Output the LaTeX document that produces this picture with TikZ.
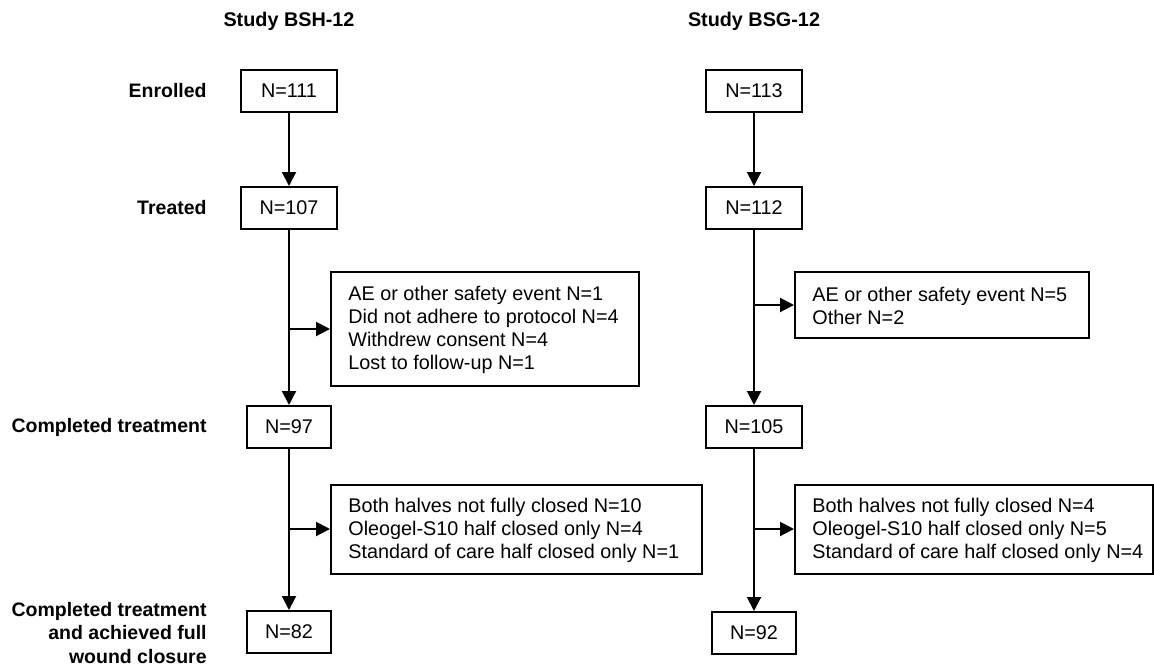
\documentclass[tikz,border=0pt]{standalone}
\usepackage{fontspec}
\setmainfont{Liberation Sans}
\usepackage{tikz}
\usetikzlibrary{arrows.meta}

\newcommand{\fsz}{\fontsize{9.9pt}{11.5pt}\selectfont}

\begin{document}
\begin{tikzpicture}[x=0.5pt,y=-0.5pt,
  every node/.style={font=\fsz},
  caja/.style={draw,line width=1pt,minimum height=21pt,inner sep=0pt},
  motivo/.style={draw,line width=1pt,inner sep=0pt},
  texto/.style={inner sep=0pt,align=left,anchor=west},
  etapa/.style={font=\fontsize{9.75pt}{11.7pt}\selectfont\bfseries,inner sep=0pt,anchor=east,align=right},
  titulo/.style={font=\fontsize{9.9pt}{12pt}\selectfont\bfseries},
  flecha/.style={line width=1pt,-{Triangle[length=7pt,width=7pt]}}
]

\useasboundingbox (0,0) rectangle (1154,665);

% titulos
\node[titulo] (tA) at (289,21) {Study BSH-12};
\node[titulo] (tB) at (754,21) {Study BSG-12};

% etapas
\node[etapa] (eEnr) at (207,91)  {Enrolled};
\node[etapa] (eTrt) at (207,208) {Treated};
\node[etapa] (eCmp) at (207,427) {Completed treatment};
\node[etapa] (eCls) at (207,633) {Completed treatment\\and achieved full\\wound closure};

% estudio BSH-12
\node[caja,minimum width=48pt] (a1) at (289,91)  {N=111};
\node[caja,minimum width=48pt] (a2) at (289,208) {N=107};
\node[caja,minimum width=42pt] (a3) at (289,427) {N=97};
\node[caja,minimum width=42pt] (a4) at (289,632) {N=82};

\node[motivo,minimum width=154pt,minimum height=57pt,anchor=west] (aD1) at (330,329) {};
\node[texto] (aT1) at ([xshift=9pt,yshift=-0.5pt]aD1.west)
  {AE or other safety event N=1\\Did not adhere to protocol N=4\\Withdrew consent N=4\\Lost to follow-up N=1};
\node[motivo,minimum width=185.5pt,minimum height=44.5pt,anchor=west] (aD2) at (330,529) {};
\node[texto] (aT2) at ([xshift=9pt,yshift=-0.5pt]aD2.west)
  {Both halves not fully closed N=10\\Oleogel-S10 half closed only N=4\\Standard of care half closed only N=1};

% estudio BSG-12
\node[caja,minimum width=48pt] (b1) at (754,91)  {N=113};
\node[caja,minimum width=48pt] (b2) at (754,208) {N=112};
\node[caja,minimum width=48pt] (b3) at (754,427) {N=105};
\node[caja,minimum width=42pt] (b4) at (754,633) {N=92};

\node[motivo,minimum width=147pt,minimum height=33pt,anchor=west] (bD1) at (794,305) {};
\node[texto] (bT1) at ([xshift=9pt,yshift=-0.5pt]bD1.west)
  {AE or other safety event N=5\\Other N=2};
\node[motivo,minimum width=179pt,minimum height=44.5pt,anchor=west] (bD2) at (794,529) {};
\node[texto] (bT2) at ([xshift=9pt,yshift=-0.5pt]bD2.west)
  {Both halves not fully closed N=4\\Oleogel-S10 half closed only N=5\\Standard of care half closed only N=4};

% flechas
\draw[flecha] (a1) -- (a2);
\draw[flecha] (a2) -- (a3);
\draw[flecha] (a3) -- (a4);
\draw[flecha] (a2.south |- aD1.west) -- (aD1.west);
\draw[flecha] (a3.south |- aD2.west) -- (aD2.west);

\draw[flecha] (b1) -- (b2);
\draw[flecha] (b2) -- (b3);
\draw[flecha] (b3) -- (b4);
\draw[flecha] (b2.south |- bD1.west) -- (bD1.west);
\draw[flecha] (b3.south |- bD2.west) -- (bD2.west);

\end{tikzpicture}
\end{document}
